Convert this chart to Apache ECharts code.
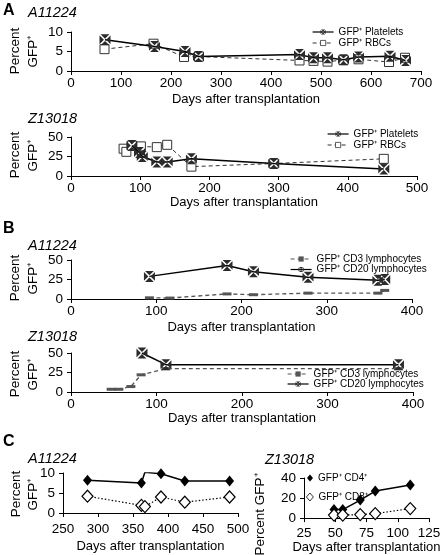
<!DOCTYPE html>
<html>
<head>
<meta charset="utf-8">
<script src="https://cdn.jsdelivr.net/npm/echarts@6/dist/echarts.min.js"></script>
<style>html,body{margin:0;padding:0;background:#fff}#c{width:445px;height:555px}</style>
</head>
<body>
<div id="c"></div>
<script>
// ---------- DATA ----------
// Panel A, A11224 (platelets / RBCs)
const aA_pltDays = [68, 167, 228, 255, 457, 485, 513, 545, 575, 638, 669];
const aA_pltVals = [8.0, 6.3, 5.0, 3.7, 4.2, 3.4, 3.4, 2.9, 3.6, 3.8, 2.7];
const aA_rbcDays = [67, 165, 226, 256, 457, 485, 513, 545, 575, 636, 668];
const aA_rbcVals = [5.6, 7.0, 3.6, 3.7, 2.7, 2.6, 2.4, 2.8, 3.0, 2.3, 3.4];
// Panel A, Z13018
const aZ_pltDays = [88, 99, 103, 124, 139, 174, 293, 452];
const aZ_pltVals = [39, 30, 25, 18, 18, 22, 16, 9];
const aZ_rbcDays = [76, 80, 88, 101, 124, 139, 174, 293, 452];
const aZ_rbcVals = [35, 31, 39, 38, 37, 40, 12, 16, 22];
// Panel B, A11224 (lymphocytes)
const bA_cd3Days = [92, 116, 183, 214, 278, 360, 368];
const bA_cd3Vals = [1.5, 1.2, 6.5, 5.5, 7.5, 7.5, 11];
const bA_cd20Days = [92, 183, 214, 278, 360, 368];
const bA_cd20Vals = [29, 43, 35, 28, 24, 25];
// Panel B, Z13018
const bZ_cd3Days = [47, 56, 70, 82, 111, 383];
const bZ_cd3Vals = [3.5, 3.5, 7, 22, 30, 30];
const bZ_cd20Days = [83, 111, 383];
const bZ_cd20Vals = [50, 35, 35];
// Panel C, A11224 (CD4 / CD8)
const cA_days = [285, 362, 367, 390, 424, 488];
const cA_cd4 = [8.2, 7.5, 10.2, 9.8, 8.0, 8.0];
const cA_cd8 = [4.2, 1.9, 1.6, 4.0, 2.7, 4.0];
// Panel C, Z13018
const cZ_days = [49, 56, 70, 82, 110];
const cZ_cd4 = [8.5, 8.5, 18, 27, 33];
const cZ_cd8 = [3, 3, 3.5, 4.5, 9.5];

// Axis ranges / ticks
const xTicksA1 = {min: 0, max: 700, interval: 100};
const xTicksA2 = {min: 0, max: 500, interval: 100};
const xTicksB = {min: 0, max: 400, interval: 100};
const xTicksC1 = {min: 250, max: 500, interval: 50};
const xTicksC2 = {min: 25, max: 125, interval: 25};
const yTicksA1 = {min: 0, max: 10, interval: 5};
const yTicks50 = {min: 0, max: 50, interval: 25};
const yTicksC1 = {min: 0, max: 10, interval: 5};
const yTicksC2 = {min: 0, max: 40, interval: 20};

const N_PLT = 'GFP⁺ Platelets', N_RBC = 'GFP⁺ RBCs';
const N_CD3 = 'GFP⁺ CD3 lymphocytes', N_CD20 = 'GFP⁺ CD20 lymphocytes';
const N_CD4 = 'GFP⁺ CD4⁺', N_CD8 = 'GFP⁺ CD8⁺';
const xTitle = 'Days after transplantation';

// ---------- CHART ----------
const FONT = 'Liberation Sans, Arial, sans-serif';
const pairs = (xs, ys) => xs.map((x, i) => [x, ys[i]]);
const XBOX = 'path://M1,0L9,0L5,4Z M10,1L10,9L6,5Z M9,10L1,10L5,6Z M0,9L0,1L4,5Z';

function xAx(g, t, nameGap, margin) {
  return {
    type: 'value', gridIndex: g, min: t.min, max: t.max, interval: t.interval,
    name: xTitle, nameLocation: 'middle', nameGap: nameGap,
    nameTextStyle: {fontSize: 13, color: '#000', fontFamily: FONT},
    axisLine: {show: true, lineStyle: {color: '#000', width: 1}},
    axisTick: {show: true, length: 4, lineStyle: {color: '#000'}},
    axisLabel: {color: '#000', fontSize: 13.5, fontFamily: FONT, margin: margin},
    splitLine: {show: false}
  };
}
function yAx(g, t) {
  return {
    type: 'value', gridIndex: g, min: t.min, max: t.max, interval: t.interval,
    axisLine: {show: true, lineStyle: {color: '#000', width: 1}},
    axisTick: {show: true, length: 4, lineStyle: {color: '#000'}},
    axisLabel: {color: '#000', fontSize: 13.5, fontFamily: FONT, margin: 8},
    splitLine: {show: false}
  };
}
function pltSeries(name, g, data) {
  return {name, type: 'line', xAxisIndex: g, yAxisIndex: g, data, symbol: XBOX, symbolSize: 11,
    showAllSymbol: true, z: 3,
    lineStyle: {color: '#000', width: 1.5}, itemStyle: {color: '#2b2b2b', borderWidth: 0}};
}
function rbcSeries(name, g, data) {
  return {name, type: 'line', xAxisIndex: g, yAxisIndex: g, data, symbol: 'rect', symbolSize: 9,
    showAllSymbol: true, z: 2,
    lineStyle: {color: '#333', width: 1, type: [4, 3]},
    itemStyle: {color: '#fff', borderColor: '#333', borderWidth: 1}};
}
function cd3Series(g, data) {
  return {name: N_CD3, type: 'line', xAxisIndex: g, yAxisIndex: g, data, symbol: 'rect', symbolSize: [9, 3],
    showAllSymbol: true, z: 2,
    lineStyle: {color: '#555', width: 1.3, type: [4, 3]},
    itemStyle: {color: '#555', borderWidth: 0}};
}
function cd4Series(g, data) {
  return {name: N_CD4, type: 'line', xAxisIndex: g, yAxisIndex: g, data, symbol: 'diamond', symbolSize: [9, 11],
    showAllSymbol: true, z: 3,
    lineStyle: {color: '#000', width: 1.5}, itemStyle: {color: '#000', borderWidth: 0}};
}
function cd8Series(g, data) {
  return {name: N_CD8, type: 'line', xAxisIndex: g, yAxisIndex: g, data, symbol: 'diamond', symbolSize: [11, 12],
    showAllSymbol: true, z: 3,
    lineStyle: {color: '#000', width: 1.2, type: [1.5, 2]},
    itemStyle: {color: '#fff', borderColor: '#000', borderWidth: 1.2}};
}
function leg(name, left, top, icon, w, h) {
  const l = {data: [name], left, top, orient: 'horizontal', padding: 0, itemGap: 0,
    itemWidth: w || 21, itemHeight: h || 6.5, selectedMode: false,
    itemStyle: {borderWidth: 0.8},
    lineStyle: {width: 1.2},
    textStyle: {fontSize: 10, color: '#000', fontFamily: FONT}};
  if (icon) l.icon = icon;
  return l;
}
function txt(text, x, y, opts) {
  opts = opts || {};
  return {type: 'text', x, y, rotation: opts.rot || 0, silent: true,
    style: {text, fill: '#000', fontSize: opts.size || 13.5, fontFamily: FONT,
      fontWeight: opts.bold ? 'bold' : 'normal', fontStyle: opts.italic ? 'italic' : 'normal',
      lineHeight: opts.lh || undefined,
      align: opts.align || 'left', verticalAlign: 'middle',
      textAlign: opts.align || 'left', textVerticalAlign: 'middle'}};
}

const chart = echarts.init(document.getElementById('c'), null, {renderer: 'canvas'});
chart.setOption({
  animation: false,
  backgroundColor: '#fff',
  grid: [
    {left: 71, top: 32, width: 350, height: 39},
    {left: 71, top: 137, width: 346, height: 39},
    {left: 71, top: 260, width: 341, height: 39},
    {left: 71, top: 353, width: 342, height: 39},
    {left: 63, top: 473, width: 175, height: 40},
    {left: 304, top: 478, width: 125, height: 41}
  ],
  xAxis: [
    xAx(0, xTicksA1, 22, 5), xAx(1, xTicksA2, 14, 5), xAx(2, xTicksB, 22, 5),
    xAx(3, xTicksB, 20, 5), xAx(4, xTicksC1, 27, 9), xAx(5, xTicksC2, 21, 8)
  ],
  yAxis: [
    yAx(0, yTicksA1), yAx(1, yTicks50), yAx(2, yTicks50), yAx(3, yTicks50), yAx(4, yTicksC1), yAx(5, yTicksC2)
  ],
  legend: [
    leg(N_PLT, 312, 27), leg(N_RBC, 312, 38),
    leg(N_PLT, 327, 129), leg(N_RBC, 327, 140),
    leg(N_CD3, 290, 254), leg(N_CD20, 290, 264.5),
    leg(N_CD3, 287, 369), leg(N_CD20, 287, 379),
    leg(N_CD4, 307, 473, 'diamond', 6, 7), leg(N_CD8, 306, 492, 'diamond', 7, 8)
  ],
  series: [
    rbcSeries(N_RBC, 0, pairs(aA_rbcDays, aA_rbcVals)),
    pltSeries(N_PLT, 0, pairs(aA_pltDays, aA_pltVals)),
    rbcSeries(N_RBC, 1, pairs(aZ_rbcDays, aZ_rbcVals)),
    pltSeries(N_PLT, 1, pairs(aZ_pltDays, aZ_pltVals)),
    cd3Series(2, pairs(bA_cd3Days, bA_cd3Vals)),
    pltSeries(N_CD20, 2, pairs(bA_cd20Days, bA_cd20Vals)),
    cd3Series(3, pairs(bZ_cd3Days, bZ_cd3Vals)),
    pltSeries(N_CD20, 3, pairs(bZ_cd20Days, bZ_cd20Vals)),
    cd4Series(4, pairs(cA_days, cA_cd4)),
    cd8Series(4, pairs(cA_days, cA_cd8)),
    cd4Series(5, pairs(cZ_days, cZ_cd4)),
    cd8Series(5, pairs(cZ_days, cZ_cd8))
  ],
  graphic: [
    txt('A', 3, 11, {bold: true, size: 16}),
    txt('A11224', 28, 13, {italic: true, size: 14.5}),
    txt('Percent\nGFP⁺', 24, 51, {rot: Math.PI / 2, align: 'center', lh: 18}),
    txt('Z13018', 28, 119, {italic: true, size: 14.5}),
    txt('Percent\nGFP⁺', 24, 155, {rot: Math.PI / 2, align: 'center', lh: 18}),
    txt('B', 3, 229, {bold: true, size: 16}),
    txt('A11224', 28, 246, {italic: true, size: 14.5}),
    txt('Percent\nGFP⁺', 24, 278, {rot: Math.PI / 2, align: 'center', lh: 18}),
    txt('Z13018', 28, 337, {italic: true, size: 14.5}),
    txt('Percent\nGFP⁺', 24, 374, {rot: Math.PI / 2, align: 'center', lh: 18}),
    txt('C', 3, 442, {bold: true, size: 16}),
    txt('A11224', 28, 459, {italic: true, size: 14.5}),
    txt('Percent\nGFP⁺', 25, 494, {rot: Math.PI / 2, align: 'center', lh: 17}),
    txt('Z13018', 265, 460, {italic: true, size: 14.5}),
    txt('Percent GFP⁺', 260, 514, {rot: Math.PI / 2, align: 'center'})
  ]
});
</script>
</body>
</html>
